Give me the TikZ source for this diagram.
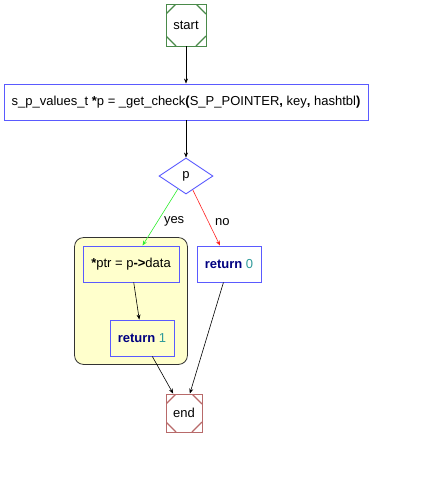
\documentclass[tikz,border=0pt]{standalone}
\usepackage{fontspec}
\setmainfont{Liberation Sans}
\usetikzlibrary{arrows.meta, positioning, shapes.geometric, fit, backgrounds}
\definecolor{flowBlue}{HTML}{5A5AFF}
\definecolor{flowStart}{HTML}{4A8A4A}
\definecolor{flowEnd}{HTML}{B86A6A}
\definecolor{flowYes}{HTML}{33EE33}
\definecolor{flowNo}{HTML}{FF2222}
\definecolor{flowKey}{HTML}{000080}
\definecolor{flowNum}{HTML}{2E9A9A}
\definecolor{flowCluster}{HTML}{FFFFCC}

\begin{document}
\begin{tikzpicture}[
  x=1pt, y=-1pt,
  font=\fontsize{13}{15}\selectfont,
  term/.style={draw=#1, line width=0.9pt, minimum width=40pt, minimum height=42pt,
               inner sep=0pt,
               path picture={
                 \draw[draw=#1, line width=1.2pt]
                   ([yshift=-10pt]path picture bounding box.north west) -- ([xshift=10pt]path picture bounding box.north west)
                   ([xshift=-10pt]path picture bounding box.north east) -- ([yshift=-10pt]path picture bounding box.north east)
                   ([yshift=10pt]path picture bounding box.south east) -- ([xshift=-10pt]path picture bounding box.south east)
                   ([xshift=10pt]path picture bounding box.south west) -- ([yshift=10pt]path picture bounding box.south west);
               }},
  box/.style={draw=flowBlue, line width=0.9pt, minimum height=36pt, inner sep=0pt},
  cond/.style={diamond, draw=flowBlue, line width=0.9pt, aspect=1.5,
               minimum width=54pt, minimum height=36pt, inner sep=0pt},
  cluster/.style={draw=black!80, fill=flowCluster, rounded corners=9pt, inner sep=8pt,
                  line width=0.8pt},
  a/.style={-{Stealth[length=5pt,width=4pt]}, draw=black, line width=0.6pt}
]
\useasboundingbox (0,0) rectangle (424,488);

\node[term=flowStart] (start) at (186,25) {start};
\node[box, minimum width=364pt] (call) at (186,102)
  {s\_p\_values\_t \textbf{*}p = \_get\_check\textbf{(}S\_P\_POINTER\textbf{,} key\textbf{,} hashtbl\textbf{)}};
\node[cond] (p) at (186,176) {p};
\node[box, minimum width=96pt] (ptr) at (131,264) {\textbf{*}ptr = p\textbf{->}data};
\node[box, minimum width=64pt] (ret1) at (142,338) {\textbf{\color{flowKey}return} {\color{flowNum}1}};
\node[box, minimum width=64pt] (ret0) at (229,264) {\textbf{\color{flowKey}return} {\color{flowNum}0}};
\node[term=flowEnd, minimum width=36pt, minimum height=38pt] (end) at (184,413) {end};

\begin{scope}[on background layer]
\node[cluster, fit=(ptr)(ret1)] (yesgroup) {};
\end{scope}

\draw[a] (start) -- (call);
\draw[a] (call) -- (p);
\draw[a, draw=flowYes] (p) -- (ptr) node[pos=0.58, right=3pt] {yes};
\draw[a, draw=flowNo] (p) -- (ret0) node[pos=0.58, right=3pt] {no};
\draw[a] (ptr) -- (ret1);
\draw[a] (ret1) -- (end);
\draw[a] (ret0) -- (end);
\end{tikzpicture}
\end{document}
